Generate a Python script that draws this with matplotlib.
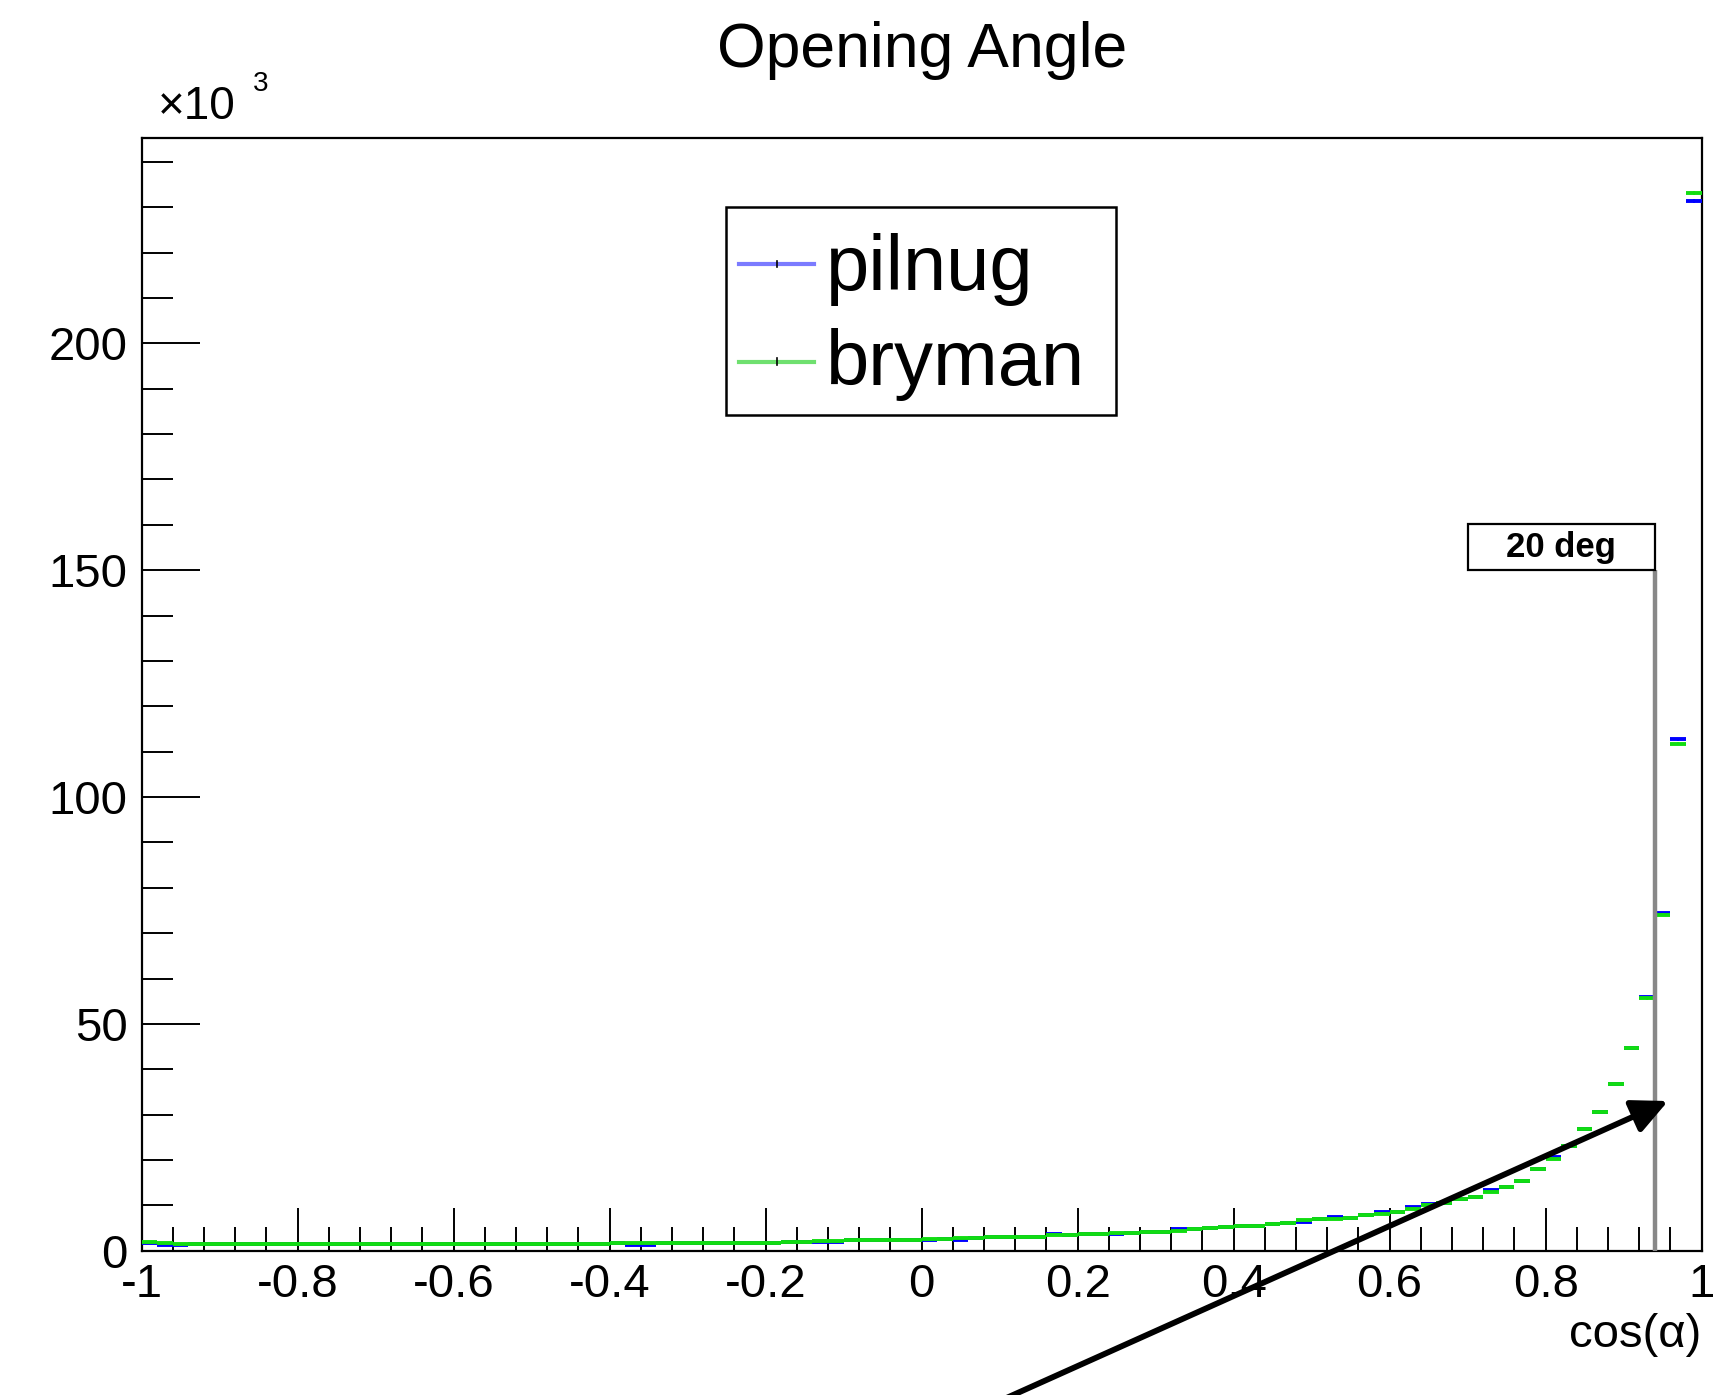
import numpy as np
import matplotlib

matplotlib.use("Agg")
import matplotlib.pyplot as plt
from matplotlib.patches import Rectangle
from matplotlib.ticker import MultipleLocator, FuncFormatter

plt.rcParams["font.family"] = ["Liberation Sans", "DejaVu Sans"]
plt.rcParams["axes.unicode_minus"] = False

# 100 bins in cos(alpha) from -1 to 1, counts in units of 10^3
bin_edges = np.linspace(-1.0, 1.0, 101)

bryman = [
    2.0, 1.6, 1.5, 1.4, 1.4, 1.4, 1.4, 1.4, 1.4, 1.4,
    1.4, 1.4, 1.4, 1.4, 1.4, 1.4, 1.4, 1.4, 1.4, 1.4,
    1.4, 1.4, 1.4, 1.4, 1.4, 1.4, 1.4, 1.4, 1.5, 1.5,
    1.6, 1.6, 1.6, 1.6, 1.7, 1.7, 1.7, 1.7, 1.8, 1.8,
    1.8, 1.9, 1.9, 2.2, 2.2, 2.3, 2.3, 2.4, 2.4, 2.4,
    2.6, 2.7, 2.8, 2.9, 3.0, 3.0, 3.1, 3.1, 3.4, 3.5,
    3.6, 3.7, 3.9, 4.0, 4.1, 4.2, 4.3, 4.8, 5.0, 5.3,
    5.4, 5.4, 6.0, 6.1, 6.8, 6.9, 7.1, 7.2, 7.9, 8.2,
    8.6, 9.3, 10.0, 10.6, 11.3, 11.9, 12.9, 14.1, 15.4, 18.0,
    20.3, 23.1, 26.9, 30.6, 36.7, 44.6, 55.6, 74.1, 111.7, 233.1,
]

pilnug = [
    1.8, 1.2, 1.3, 1.4, 1.4, 1.4, 1.4, 1.4, 1.4, 1.4,
    1.4, 1.4, 1.4, 1.4, 1.4, 1.4, 1.4, 1.4, 1.4, 1.4,
    1.4, 1.4, 1.4, 1.4, 1.4, 1.4, 1.4, 1.4, 1.5, 1.5,
    1.6, 1.25, 1.25, 1.6, 1.7, 1.7, 1.7, 1.7, 1.8, 1.8,
    1.8, 1.9, 1.9, 1.95, 2.0, 2.3, 2.3, 2.4, 2.4, 2.4,
    2.4, 2.5, 2.4, 2.9, 3.0, 3.0, 3.1, 3.1, 3.6, 3.5,
    3.6, 3.7, 3.8, 4.0, 4.1, 4.2, 4.7, 4.8, 5.0, 5.2,
    5.4, 5.4, 6.0, 6.1, 6.4, 6.9, 7.4, 7.2, 7.9, 8.6,
    8.6, 9.7, 10.3, 10.6, 11.3, 11.9, 13.3, 14.1, 15.4, 18.1,
    20.6, 23.1, 26.9, 30.6, 36.7, 44.7, 56.0, 74.4, 112.7, 231.4,
]

series_names = ["pilnug", "bryman"]
series_colors = ["#0000ff", "#11dd11"]
legend_colors = ["#7b7bff", "#6fe06f"]

cut_angle_deg = 20.0
cut_line_top = 150.0
cut_box_left = 0.70
cut_box_height = 10.2

fig = plt.figure(figsize=(17.27, 13.95), dpi=100)
ax = fig.add_axes([0.0820, 0.1034, 0.9033, 0.7975])

lo = bin_edges[:-1]
hi = bin_edges[1:]
centers = 0.5 * (lo + hi)
for vals, color in zip([pilnug, bryman], series_colors):
    v = np.asarray(vals)
    err = np.sqrt(v * 1000.0) / 1000.0
    ax.hlines(v, lo, hi, colors=color, linewidth=2.8, zorder=3)
    ax.vlines(centers, v - err, v + err, colors=color, linewidth=1.4, zorder=3)

# 20 degree cut marker
cut_x = np.cos(np.radians(cut_angle_deg))
ax.vlines(cut_x, 0, cut_line_top, colors="#888888", linewidth=3.2, zorder=4)
ax.add_patch(Rectangle((cut_box_left, cut_line_top), cut_x - cut_box_left, cut_box_height,
                       facecolor="white", edgecolor="black", linewidth=1.6, zorder=5))
ax.text(0.5 * (cut_box_left + cut_x), cut_line_top + 0.5 * cut_box_height, "20 deg",
        ha="center", va="center", fontsize=25, fontweight="bold", zorder=6)

ax.set_xlim(-1.0, 1.0)
ax.set_ylim(0, 245.2)

ax.xaxis.set_major_locator(MultipleLocator(0.2))
ax.xaxis.set_minor_locator(MultipleLocator(0.04))
ax.yaxis.set_major_locator(MultipleLocator(50))
ax.yaxis.set_minor_locator(MultipleLocator(10))
ax.xaxis.set_major_formatter(FuncFormatter(lambda x, pos: "{:g}".format(round(x, 2))))
ax.yaxis.set_major_formatter(FuncFormatter(lambda y, pos: "{:g}".format(y)))

ax.tick_params(axis="x", which="major", direction="in", length=31, width=1.4, labelsize=34, pad=9)
ax.tick_params(axis="x", which="minor", direction="in", length=17, width=1.4)
ax.tick_params(axis="y", which="major", direction="in", length=42, width=1.4, labelsize=34, pad=10)
ax.tick_params(axis="y", which="minor", direction="in", length=22, width=1.4)
for sp in ax.spines.values():
    sp.set_linewidth(1.6)

ax.set_xlabel("cos(α)", fontsize=34, ha="right", va="center")
ax.xaxis.set_label_coords(1.0, -0.0758)

fig.text(0.5337, 0.964, "Opening Angle", ha="center", va="center", fontsize=45)
fig.text(0.0915, 0.923, "×10", ha="left", va="center", fontsize=33)
fig.text(0.1465, 0.940, "3", ha="left", va="center", fontsize=20)

# legend box
ax.add_patch(Rectangle((0.3746, 0.7513), 0.25, 0.1869, transform=ax.transAxes,
                       facecolor="white", edgecolor="black", linewidth=1.8, zorder=6))
for name, color, ly, ty in zip(series_names, legend_colors, [0.887, 0.7992], [0.8636, 0.7782]):
    ax.plot([0.383, 0.4313], [ly, ly], transform=ax.transAxes, color=color, linewidth=3.0, zorder=7)
    ax.plot([0.407, 0.407], [ly - 0.003, ly + 0.003], transform=ax.transAxes, color="black",
            linewidth=1.2, zorder=8)
    ax.text(0.4387, ty, name, transform=ax.transAxes, ha="left", va="baseline", fontsize=56, zorder=8)

# arrow pointing at the cut region
ax.annotate("", xy=(0.957, 33.0), xycoords="data", xytext=(0.5686, -0.01), textcoords="figure fraction",
            annotation_clip=False,
            arrowprops=dict(arrowstyle="-|>,head_length=0.9,head_width=0.43", mutation_scale=24,
                            color="black", linewidth=4.2, shrinkA=0, shrinkB=0),
            zorder=9)

fig.savefig("out.png", dpi=100)
